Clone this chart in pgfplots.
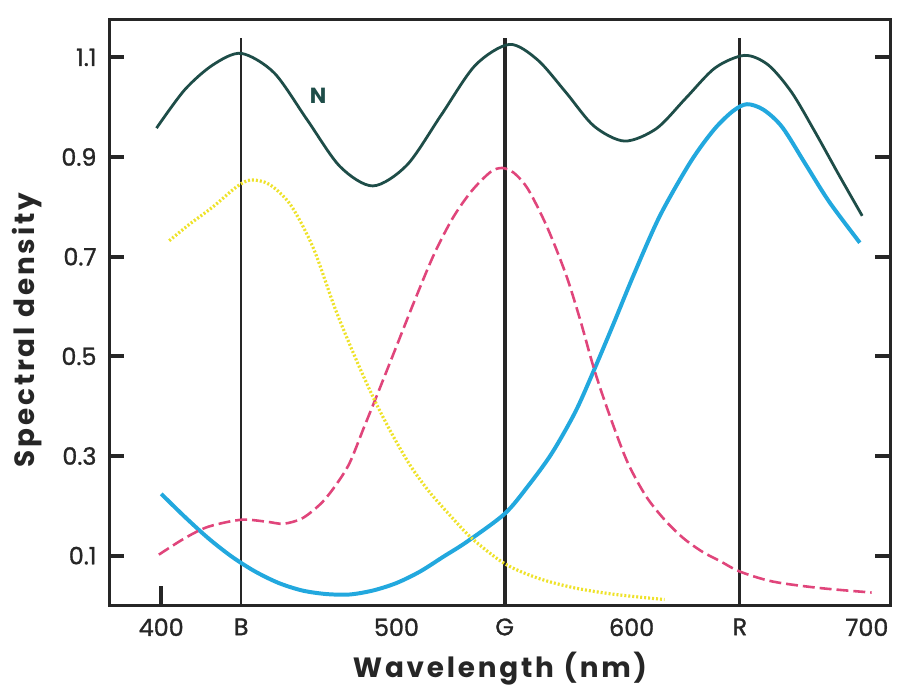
\documentclass[border={3pt 0pt 2pt 9pt}]{standalone}
\usepackage{fontspec}
\setmainfont{Poppins}
\newfontfamily\labfont[LetterSpace=10]{Poppins}
\newfontfamily\tickfont[FakeBold=1.2]{Poppins}
\usepackage{pgfplots}
\pgfplotsset{compat=1.18}
\definecolor{ncol}{HTML}{1E4D48}
\definecolor{cyancol}{HTML}{22A8DE}
\definecolor{magcol}{HTML}{E0457B}
\definecolor{yelcol}{HTML}{EEE22A}
\definecolor{axcol}{HTML}{262626}

\begin{document}
\begin{tikzpicture}
\begin{axis}[
  width=392.5pt, height=294.5pt, scale only axis,
  xmin=378, xmax=710, ymin=0, ymax=1.176,
  axis line style={line width=1.6pt, axcol},
  xtick={400,434,500,546,600,646,700},
  xticklabels={400,B,500,G,600,R,700},
  ytick={0.1,0.3,0.5,0.7,0.9,1.1},
  yticklabels={0.1,0.3,0.5,0.7,0.9,1.1},
  tick align=inside,
  major tick length=7.5pt,
  x tick style={draw=none},
  y tick style={line width=2pt, axcol},
  tick label style={font=\tickfont\fontsize{12}{14}\selectfont, text=axcol},
  yticklabel style={xshift=-3pt},
  xticklabel style={yshift=-3pt},
  /pgf/number format/assume math mode=true,
  xlabel={\labfont\bfseries Wavelength\hspace{0.35em}(nm)},
  ylabel={\labfont\bfseries Spectral\hspace{0.35em}density},
  xlabel style={at={(axis description cs:0.5,-0.108)}, anchor=center, font=\fontsize{14}{16}\selectfont, text=axcol},
  ylabel style={at={(axis description cs:-0.105,0.47)}, anchor=center, font=\fontsize{14}{16}\selectfont, text=axcol},
  clip=false,
]
% reference lines B, G, R and the single 400 tick
\addplot[line width=1pt, axcol] coordinates {(434,0) (434,1.138)};
\addplot[line width=2pt, axcol] coordinates {(546,0) (546,1.138)};
\addplot[line width=1.5pt, axcol] coordinates {(646,0) (646,1.138)};
\addplot[line width=2pt, axcol] coordinates {(400,0) (400,0.04)};

% N
\addplot[ncol, line width=1.4pt, smooth] coordinates {
(398,0.958) (410,1.035) (422,1.085) (434,1.108) (448,1.069) (462,0.975)
(476,0.881) (490,0.842) (504.5,0.884) (519,0.984) (533.5,1.084) (548,1.126)
(560,1.095) (572,1.030) (584,0.962) (597,0.932) (610.5,0.957) (623,1.018)
(635.5,1.079) (648,1.104) (658,1.085) (668,1.030) (678,0.950) (688,0.865) (698,0.782)};

% cyan
\addplot[cyancol, line width=2pt, smooth] coordinates {
(400,0.224) (410,0.178) (420,0.135) (430,0.098) (440,0.068) (450,0.045)
(460,0.030) (470,0.023) (480,0.022) (490,0.030) (500,0.045) (510,0.068)
(520,0.098) (530,0.128) (546,0.184) (556,0.240) (566,0.305) (576,0.388)
(583.5,0.467) (592,0.562) (601,0.665) (612,0.782) (625,0.890) (635,0.955)
(643,0.992) (649,1.006) (656,0.995) (664,0.960) (674,0.885) (684,0.810) (697,0.728)};

% magenta dashed
\addplot[magcol, line width=1.3pt, smooth, dash pattern=on 6pt off 2.5pt] coordinates {
(399,0.102) (410,0.135) (420,0.158) (434,0.172) (445,0.168) (452,0.164)
(460,0.175) (468,0.205) (474,0.240) (480,0.285) (486,0.355) (492,0.425)
(500,0.520) (508,0.615) (516,0.705) (524,0.778) (532,0.832) (540,0.870)
(545,0.878) (550,0.868) (556,0.835) (564,0.760) (572,0.665) (578,0.575)
(584,0.475) (590,0.390) (598,0.290) (606,0.220) (614,0.172) (622,0.135)
(630,0.108) (638,0.088) (646,0.068) (660,0.048) (680,0.035) (702,0.026)};

% yellow dotted
\addplot[yelcol, line width=1.6pt, smooth, dash pattern=on 1pt off 1pt] coordinates {
(403.4,0.732) (412,0.765) (422,0.800) (432,0.840) (438,0.854) (446,0.845)
(455,0.804) (464.6,0.718) (474,0.595) (483,0.492) (490.7,0.412) (498,0.345)
(506,0.280) (514,0.228) (522,0.185) (532,0.135) (546,0.084) (560,0.055)
(575,0.036) (590,0.024) (605,0.016) (614,0.012)};

\node[text=ncol, font=\bfseries\fontsize{11}{13}\selectfont] at (axis cs:466.7,1.022) {N};
\end{axis}
\end{tikzpicture}
\end{document}
